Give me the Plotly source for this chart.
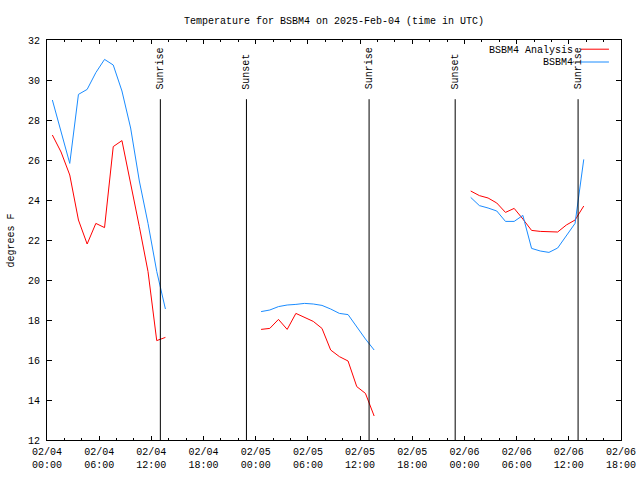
import plotly.graph_objects as go
import pandas as pd

# ---- data ----
seg_starts = ["2025-02-04 00:37", "2025-02-05 00:37", "2025-02-06 00:43"]
seg_len = 14

analysis_day1 = [27.25, 26.4, 25.25, 23.0, 21.8, 22.83, 22.62, 26.67, 26.97, 24.9, 22.67, 20.42, 16.97, 17.13]
analysis_day2 = [17.53, 17.58, 18.03, 17.53, 18.33, 18.13, 17.93, 17.58, 16.5, 16.17, 15.95, 14.67, 14.33, 13.2]
analysis_day3 = [24.45, 24.22, 24.1, 23.85, 23.38, 23.58, 23.05, 22.48, 22.43, 22.4, 22.4, 22.75, 23.0, 23.7]

obs_day1 = [29.0, 27.4, 25.83, 29.28, 29.53, 30.37, 31.03, 30.75, 29.45, 27.6, 24.95, 22.83, 20.43, 18.55]
obs_day2 = [18.42, 18.5, 18.67, 18.75, 18.78, 18.83, 18.8, 18.73, 18.55, 18.33, 18.27, 17.65, 17.05, 16.5]
obs_day3 = [24.13, 23.72, 23.6, 23.45, 22.93, 22.93, 23.23, 21.58, 21.45, 21.38, 21.6, 22.2, 22.83, 26.03]

sun_times = ["2025-02-04 13:02", "2025-02-04 22:56", "2025-02-05 13:02", "2025-02-05 22:56", "2025-02-06 13:04"]
sun_labels = ["Sunrise", "Sunset", "Sunrise", "Sunset", "Sunrise"]

title_text = "Temperature for BSBM4 on 2025-Feb-04 (time in UTC)"
ylabel = "degrees F"
names = ["BSBM4 Analysis", "BSBM4"]
colors = ["#ff0000", "#1a8cff"]

# ---- build series with gaps between segments ----
def join(segs):
    xs, ys = [], []
    for start, vals in zip(seg_starts, segs):
        t = pd.date_range(start, periods=seg_len, freq="h")
        xs += list(t) + [None]
        ys += list(vals) + [None]
    return xs, ys

xa, ya = join([analysis_day1, analysis_day2, analysis_day3])
xo, yo = join([obs_day1, obs_day2, obs_day3])

FONT = "Liberation Mono"
fig = go.Figure()
fig.add_trace(go.Scatter(x=xa, y=ya, mode="lines", line=dict(color=colors[0], width=1),
                         connectgaps=False, showlegend=False, name=names[0]))
fig.add_trace(go.Scatter(x=xo, y=yo, mode="lines", line=dict(color=colors[1], width=1),
                         connectgaps=False, showlegend=False, name=names[1]))

shapes = []
annotations = []
for t, lab in zip(sun_times, sun_labels):
    shapes.append(dict(type="line", xref="x", yref="paper", x0=t, x1=t, y0=0, y1=0.852,
                       line=dict(color="black", width=1)))
    annotations.append(dict(x=t, xref="x", y=0.872, yref="paper", text=lab, textangle=-90,
                            showarrow=False, xanchor="center", yanchor="bottom",
                            font=dict(family=FONT, size=10, color="black")))

# manual gnuplot-style key
key_rows = [(names[0], colors[0], 0.975), (names[1], colors[1], 0.943)]
for name, col, yy in key_rows:
    annotations.append(dict(x=0.92, xref="paper", y=yy, yref="paper", text=name, showarrow=False,
                            xanchor="right", yanchor="middle",
                            font=dict(family=FONT, size=10, color="black")))
    shapes.append(dict(type="line", xref="paper", yref="paper", x0=0.9303, x1=0.979, y0=yy + 0.002,
                       y1=yy + 0.002, line=dict(color=col, width=1)))

annotations.append(dict(x=-0.062, xref="paper", y=0.5, yref="paper", text=ylabel, textangle=-90,
                        showarrow=False, xanchor="center", yanchor="middle",
                        font=dict(family=FONT, size=10, color="black")))

fig.update_layout(
    width=640, height=480,
    margin=dict(l=47, r=19, t=40, b=40, autoexpand=False),
    paper_bgcolor="white", plot_bgcolor="white",
    font=dict(family=FONT, size=10, color="black"),
    title=dict(text=title_text, x=0.5, xref="paper", y=1 - 20 / 480, yref="container",
               xanchor="center", yanchor="middle", font=dict(family=FONT, size=10, color="black")),
    shapes=shapes, annotations=annotations,
    showlegend=False,
)
fig.update_xaxes(
    type="date", range=["2025-02-04 00:00", "2025-02-06 18:00"], automargin=False,
    tick0="2025-02-04 00:00", dtick=6 * 3600 * 1000, tickformat="%m/%d<br>%H:%M",
    ticks="inside", ticklen=4, tickcolor="black", mirror="allticks", ticklabelstandoff=2,
    showline=True, linecolor="black", linewidth=1, showgrid=False, zeroline=False,
    minor=dict(ticks="inside", dtick=2 * 3600 * 1000, ticklen=2, tickcolor="black", showgrid=False),
    tickfont=dict(family=FONT, size=10, color="black"),
)
fig.update_yaxes(
    range=[12, 32], dtick=2, tick0=12, automargin=False,
    ticks="inside", ticklen=5, tickcolor="black", mirror="allticks", ticklabelstandoff=4,
    showline=True, linecolor="black", linewidth=1, showgrid=False, zeroline=False,
    tickfont=dict(family=FONT, size=10, color="black"),
)

fig.write_html("out.html", config={"displayModeBar": False},
               post_script="document.body.style.margin='0px';document.body.style.overflow='hidden';")
